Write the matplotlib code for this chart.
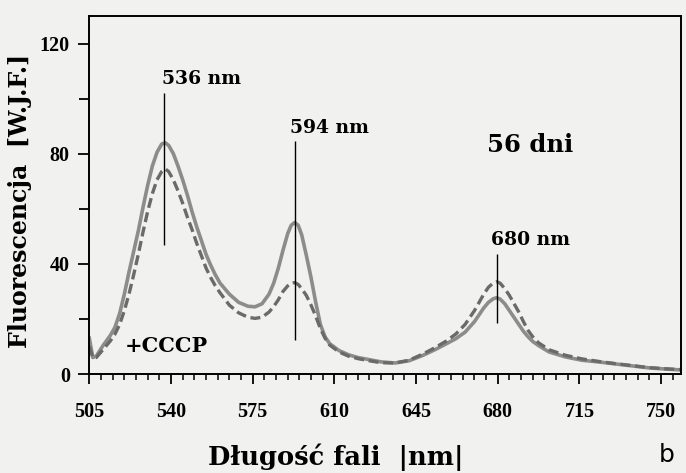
import numpy as np
import matplotlib
matplotlib.use('Agg')
from matplotlib import pyplot as plt

# wavelength [nm] and fluorescence values
wl = [505, 506.5, 508, 511, 514, 516, 518, 520, 522, 524,
      526, 528, 530, 532, 534, 536, 537.5, 539, 541, 543,
      545, 547, 549, 551, 553, 555, 557, 559, 561, 565,
      569, 573, 576, 579, 582, 584, 586, 588, 590, 591.5,
      593, 594.5, 596, 598, 600, 602, 604, 606, 608, 612,
      616, 620, 625, 630, 636, 642, 648, 653, 658, 662,
      666, 670, 672, 674, 676, 678, 679.5, 681, 683, 685,
      687, 689, 691, 693, 695, 697.5, 702, 709, 716, 723,
      730, 738, 745, 752, 758]
control = [13, 6, 6.5, 10.5, 14, 17, 22, 29, 37, 44.5,
           52, 60.5, 68.5, 75.5, 80.5, 83.5, 84, 83, 80, 75.5,
           70.5, 65, 59, 53.5, 48.5, 43.5, 39.5, 36, 33, 29,
           26, 24.6, 24.4, 25.5, 29, 33, 38.5, 45, 51, 54,
           55, 54, 50.5, 43, 35, 26, 18, 13.5, 11, 8.5,
           7, 6, 5.2, 4.4, 4, 4.8, 6.8, 8.8, 11, 12.8,
           15.2, 19, 21.5, 24, 26, 27.3, 27.7, 27.2, 25.5, 23,
           20.5, 18, 15.5, 13.5, 11.8, 10.3, 8, 6.2, 5, 4.4,
           3.7, 2.9, 2.2, 1.8, 1.5]
cccp = [10, 6, 6, 9, 12, 14.5, 18, 23, 29, 36,
        43.5, 51.5, 59, 65.5, 70.5, 73.5, 74.5, 73.5, 70.5, 66.5,
        62, 57, 52.5, 47.5, 43, 38.5, 35, 32, 29.5, 25,
        22.2, 20.6, 20.2, 20.6, 22.5, 24.5, 27, 30, 32, 33,
        33.2, 32.5, 31, 28.5, 25, 21, 16.5, 13, 10.5, 8,
        6.5, 5.6, 4.8, 4.1, 4, 5, 7.3, 9.5, 12, 14.5,
        18, 23, 26, 29, 31.5, 33, 33.5, 33, 31, 28.5,
        25.5, 22.5, 19, 15.8, 13.5, 11.3, 8.8, 6.8, 5.5, 4.6,
        3.8, 3, 2.3, 1.9, 1.6]

peak_wl = [537, 593, 679.5]
peak_lo = [47, 12.5, 18.5]
peak_hi = [102, 84.5, 43.5]
peak_labels = ['536 nm', '594 nm', '680 nm']
label_pos = [(553, 107), (608, 89.5), (694, 48.7)]

bg = '#f1f1ef'
serif = 'Liberation Serif'
wide = 'DejaVu Serif'

fig = plt.figure(figsize=(6.86, 4.73), dpi=100, facecolor=bg)
ax = fig.add_axes([0.1302, 0.2093, 0.8625, 0.7569], facecolor=bg)

ax.plot(wl, control, color='#8c8c8c', lw=2.6, solid_joinstyle='round')
ax.plot(wl, cccp, color='#6a6a6a', lw=2.4, dashes=(3, 1.4))
ax.vlines(peak_wl, peak_lo, peak_hi, color='black', lw=1.0)

for lab, (x, y) in zip(peak_labels, label_pos):
    ax.text(x, y, lab, ha='center', va='center', fontsize=13.5,
            fontweight='bold', family=wide)
ax.text(694, 83, '56 dni', ha='center', va='center', fontsize=17.5,
        fontweight='bold', family=wide)
ax.text(538, 10, '+CCCP', ha='center', va='center', fontsize=15,
        fontweight='bold', family=wide)

ax.set_xlim(505, 758.5)
ax.set_ylim(0, 130)
ax.set_xticks(np.arange(505, 751, 35))
ax.set_xticks(np.arange(505, 759, 5), minor=True)
ax.set_yticks([0, 40, 80, 120])
ax.set_yticks([20, 60, 100], minor=True)
ax.tick_params(axis='x', which='major', direction='out', width=1.3,
               length=7, color='black', pad=13)
ax.tick_params(axis='y', which='major', direction='out', width=1.3,
               length=8, color='black', pad=6)
ax.tick_params(axis='x', which='minor', direction='out', width=1.1, length=4)
ax.tick_params(axis='y', which='minor', direction='out', width=1.3, length=7)
for lab in ax.get_xticklabels() + ax.get_yticklabels():
    lab.set_family(serif)
    lab.set_fontweight('bold')
    lab.set_fontsize(14.5)
for s in ax.spines.values():
    s.set_linewidth(1.4)

# axis titles placed as figure text to follow the scan's off-centre layout
fig.text(0.029, 0.575, 'Fluorescencja  [W.J.F.]', rotation=90, fontsize=17,
         fontweight='bold', family=wide, ha='center', va='center')
fig.text(0.490, 0.016, 'Długość fali  |nm|', fontsize=18.5, fontweight='bold',
         family=wide, ha='center', va='baseline')
fig.text(0.972, 0.038, 'b', fontsize=18, family='DejaVu Sans', ha='center',
         va='center')

fig.savefig('out.png', dpi=100, facecolor=bg)
